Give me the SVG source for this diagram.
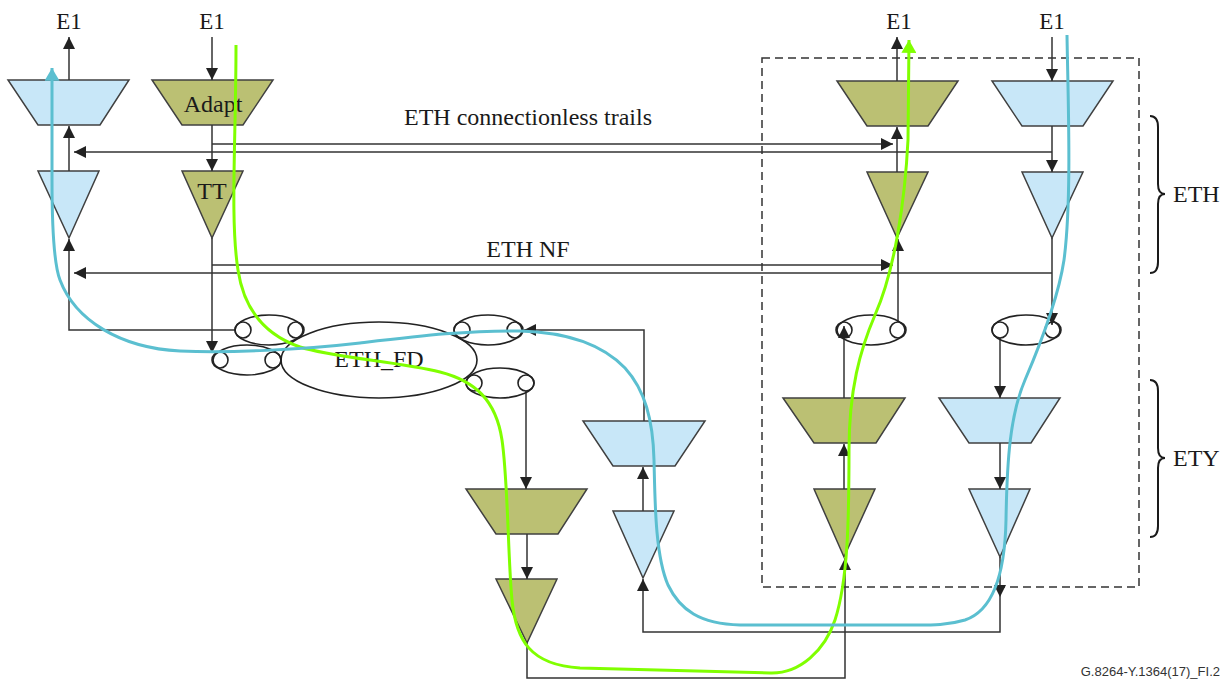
<svg xmlns="http://www.w3.org/2000/svg" width="1231" height="681" viewBox="0 0 1231 681">
<style>
.t{font-family:"Liberation Serif","Times New Roman",serif;font-size:24px;fill:#1a1a1a;text-anchor:middle}
.e1{font-size:23px}
.ol{fill:#bbc073;stroke:#404040;stroke-width:1.5}
.bl{fill:#c8e7f8;stroke:#404040;stroke-width:1.5}
.ln{fill:none;stroke:#333;stroke-width:1.5}
.el{fill:none;stroke:#222;stroke-width:1.6}
.gr{fill:none;stroke:#80ff00;stroke-width:3}
.bc{fill:none;stroke:#5bbfd0;stroke-width:3}
.br{fill:none;stroke:#1a1a1a;stroke-width:2}
</style>
<defs>
<marker id="a" viewBox="0 0 10 10" refX="10" refY="5" markerWidth="12" markerHeight="12" markerUnits="userSpaceOnUse" orient="auto"><path d="M0,0 L10,5 L0,10 Z" fill="#222"/></marker>
<marker id="ag" viewBox="0 0 12 14" refX="12" refY="7" markerWidth="13" markerHeight="15" markerUnits="userSpaceOnUse" orient="auto"><path d="M0,0 L12,7 L0,14 Z" fill="#80ff00"/></marker>
<marker id="ab" viewBox="0 0 12 14" refX="12" refY="7" markerWidth="13" markerHeight="15" markerUnits="userSpaceOnUse" orient="auto"><path d="M0,0 L12,7 L0,14 Z" fill="#5bbfd0"/></marker>
</defs>
<rect width="1231" height="681" fill="#fff"/>

<rect id="boundary" x="762" y="58" width="377" height="529" fill="none" stroke="#333" stroke-width="1.5" stroke-dasharray="8,5"/>

<g id="n-left-adapt"><polygon class="bl" points="8,80 129,80 100,125 38,125"/></g>
<g id="n-left-tt"><polygon class="bl" points="38,171 99,171 69,238"/></g>
<g id="n-adapt"><polygon class="ol" points="152,80 273,80 243,125 182,125"/><text class="t" x="213" y="112">Adapt</text></g>
<g id="n-tt"><polygon class="ol" points="182,171 243,171 212,238"/><text class="t" x="212" y="199">TT</text></g>
<g id="n-r-ol-adapt"><polygon class="ol" points="837,81 958,81 928,126 867,126"/></g>
<g id="n-r-ol-tt"><polygon class="ol" points="867,172 928,172 897,238"/></g>
<g id="n-r-bl-adapt"><polygon class="bl" points="992,81 1113,81 1083,126 1022,126"/></g>
<g id="n-r-bl-tt"><polygon class="bl" points="1022,172 1083,172 1052,238"/></g>
<g id="n-ety-ol-adapt"><polygon class="ol" points="783,398 905,398 876,443 814,443"/></g>
<g id="n-ety-ol-tt"><polygon class="ol" points="814,489 875,489 844,557"/></g>
<g id="n-ety-bl-adapt"><polygon class="bl" points="939,398 1060,398 1031,443 969,443"/></g>
<g id="n-ety-bl-tt"><polygon class="bl" points="969,489 1030,489 1000,557"/></g>
<g id="n-mid-bl-adapt"><polygon class="bl" points="583,421 705,421 675,466 613,466"/></g>
<g id="n-mid-bl-tt"><polygon class="bl" points="613,511 674,511 643,578"/></g>
<g id="n-mid-ol-adapt"><polygon class="ol" points="466,489 587,489 558,534 496,534"/></g>
<g id="n-mid-ol-tt"><polygon class="ol" points="496,579 557,579 527,643"/></g>

<g id="connectors">
<line class="ln" x1="69" y1="80" x2="69" y2="37" marker-end="url(#a)"/>
<line class="ln" x1="69" y1="171" x2="69" y2="126" marker-end="url(#a)"/>
<path class="ln" d="M235,330 H69 V239" marker-end="url(#a)"/>
<line class="ln" x1="1052" y1="152" x2="74" y2="152" marker-end="url(#a)"/>
<line class="ln" x1="1052" y1="273" x2="74" y2="273" marker-end="url(#a)"/>
<line class="ln" x1="212" y1="37" x2="212" y2="80" marker-end="url(#a)"/>
<line class="ln" x1="212" y1="125" x2="212" y2="171" marker-end="url(#a)"/>
<line class="ln" x1="212" y1="238" x2="212" y2="353" marker-end="url(#a)"/>
<line class="ln" x1="212" y1="144" x2="893" y2="144" marker-end="url(#a)"/>
<line class="ln" x1="212" y1="265" x2="893" y2="265" marker-end="url(#a)"/>
<line class="ln" x1="897" y1="81" x2="897" y2="37" marker-end="url(#a)"/>
<line class="ln" x1="897" y1="172" x2="897" y2="127" marker-end="url(#a)"/>
<line class="ln" x1="898" y1="322" x2="898" y2="239" marker-end="url(#a)"/>
<line class="ln" x1="1052" y1="37" x2="1052" y2="81" marker-end="url(#a)"/>
<line class="ln" x1="1052" y1="126" x2="1052" y2="172" marker-end="url(#a)"/>
<line class="ln" x1="1052" y1="238" x2="1052" y2="325" marker-end="url(#a)"/>
<line class="ln" x1="844" y1="398" x2="844" y2="326" marker-end="url(#a)"/>
<line class="ln" x1="844" y1="489" x2="844" y2="444" marker-end="url(#a)"/>
<path class="ln" d="M527,643 V678 H845 V558" marker-end="url(#a)"/>
<line class="ln" x1="1000" y1="338" x2="1000" y2="398" marker-end="url(#a)"/>
<line class="ln" x1="1000" y1="443" x2="1000" y2="489" marker-end="url(#a)"/>
<line class="ln" x1="1000" y1="557" x2="1000" y2="597" marker-end="url(#a)"/>
<path class="ln" d="M1000,597 V632 H643 V579" marker-end="url(#a)"/>
<line class="ln" x1="643" y1="511" x2="643" y2="467" marker-end="url(#a)"/>
<path class="ln" d="M644,421 V330 H524" marker-end="url(#a)"/>
<line class="ln" x1="526" y1="391" x2="526" y2="489" marker-end="url(#a)"/>
<line class="ln" x1="527" y1="534" x2="527" y2="579" marker-end="url(#a)"/>
</g>

<g id="n-eth-fd">
<ellipse class="el" cx="379" cy="360" rx="98" ry="38"/>
<text class="t" x="379" y="367">ETH_FD</text>
</g>
<g id="n-fp1"><ellipse class="el" cx="269" cy="330" rx="34" ry="15"/><circle class="el" cx="243" cy="330" r="8"/><circle class="el" cx="296" cy="330" r="8"/></g>
<g id="n-fp2"><ellipse class="el" cx="247" cy="360" rx="34" ry="15"/><circle class="el" cx="220" cy="360" r="8"/><circle class="el" cx="273" cy="360" r="8"/></g>
<g id="n-fp3"><ellipse class="el" cx="488" cy="330" rx="34" ry="15"/><circle class="el" cx="462" cy="330" r="8"/><circle class="el" cx="515" cy="330" r="8"/></g>
<g id="n-fp4"><ellipse class="el" cx="500" cy="383" rx="34" ry="15"/><circle class="el" cx="474" cy="383" r="8"/><circle class="el" cx="526" cy="383" r="8"/></g>
<g id="n-fp5"><ellipse class="el" cx="871" cy="330" rx="34" ry="15"/><circle class="el" cx="844" cy="330" r="8"/><circle class="el" cx="898" cy="330" r="8"/></g>
<g id="n-fp6"><ellipse class="el" cx="1026" cy="330" rx="34" ry="15"/><circle class="el" cx="1000" cy="330" r="8"/><circle class="el" cx="1053" cy="330" r="8"/></g>

<g id="labels">
<text class="t e1" x="69" y="29">E1</text>
<text class="t e1" x="212" y="29">E1</text>
<text class="t e1" x="899" y="29">E1</text>
<text class="t e1" x="1052" y="29">E1</text>
<text class="t" x="528" y="125">ETH connectionless trails</text>
<text class="t" x="528" y="257">ETH NF</text>
</g>

<g id="layers">
<path class="br" d="M1150,116 Q1158,116 1158,127 L1158,184 Q1158,194 1165,194 Q1158,194 1158,204 L1158,262 Q1158,273 1150,273"/>
<text class="t" x="1173" y="202" style="text-anchor:start">ETH</text>
<path class="br" d="M1150,380 Q1158,380 1158,391 L1158,448 Q1158,458 1165,458 Q1158,458 1158,468 L1158,526 Q1158,537 1150,537"/>
<text class="t" x="1173" y="466" style="text-anchor:start">ETY</text>
</g>

<g id="paths">
<path class="gr" d="M236,45 C236,140 230,220 238,270 C244,310 265,335 300,347 C330,357 400,362 440,372 C475,381 496,400 502,440 C508,480 508,560 512,600 C516,640 530,665 580,668 L770,673 C800,674 825,650 835,620 C848,580 849,520 849,450 C849,390 860,350 875,315 C895,270 905,200 908,140 L909,40" marker-end="url(#ag)"/>
<path class="bc" d="M1067,35 C1068,100 1072,200 1064,260 C1058,300 1040,345 1025,380 C1010,415 1007,460 1006,520 C1005,570 995,610 965,620 C945,626 930,625 900,625 L740,625 C700,624 680,610 668,585 C655,555 655,500 654,460 C653,420 645,390 625,368 C600,342 560,332 520,331 C470,330 420,336 360,343 C300,350 230,353 180,351 C120,348 75,320 60,280 C53,262 52,220 52,180 L52,68" marker-end="url(#ab)"/>
</g>

<text x="1220" y="676" style="font-family:'Liberation Sans',Arial,sans-serif;font-size:13px;fill:#333;text-anchor:end">G.8264-Y.1364(17)_FI.2</text>
</svg>
